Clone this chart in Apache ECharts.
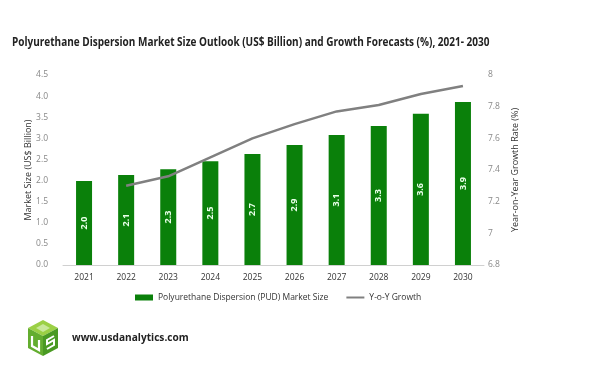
<!DOCTYPE html>
<html><head><meta charset="utf-8">
<script src="https://cdn.jsdelivr.net/npm/echarts@6/dist/echarts.min.js"></script>
<style>html,body{margin:0;padding:0;background:#fff}#c{width:595px;height:365px}</style>
</head><body><div id="c"></div>
<script>
const years = ['2021','2022','2023','2024','2025','2026','2027','2028','2029','2030'];
const marketSize = [1.99, 2.13, 2.27, 2.46, 2.63, 2.84, 3.08, 3.29, 3.58, 3.86];
const barLabels = ['2.0','2.1','2.3','2.5','2.7','2.9','3.1','3.3','3.6','3.9'];
const yoyGrowth = [null, 7.30, 7.36, 7.48, 7.60, 7.69, 7.77, 7.81, 7.88, 7.93];
const leftTicks = ['0.0','0.5','1.0','1.5','2.0','2.5','3.0','3.5','4.0','4.5'];
const rightTicks = ['6.8','7','7.2','7.4','7.6','7.8','8'];
const titleText = 'Polyurethane Dispersion Market Size Outlook (US$ Billion) and Growth Forecasts (%), 2021- 2030';

const chart = echarts.init(document.getElementById('c'));
const font = 'Open Sans, Noto Sans, sans-serif';
chart.setOption({
  animation: false,
  legend: {
    bottom: 58, left: 130, itemGap: 18, itemWidth: 18, itemHeight: 6,
    textStyle: { fontFamily: font, fontSize: 8.5, color: '#333' },
    data: [
      { name: 'Polyurethane Dispersion (PUD) Market Size', icon: 'rect' },
      { name: 'Y-o-Y Growth', icon: 'path://M0,0 L18,0 L18,2 L0,2 Z', itemStyle: { color: '#808080' } }
    ]
  },
  grid: { left: 63, right: 111, top: 75, bottom: 100 },
  xAxis: {
    type: 'category', data: years,
    axisLine: { lineStyle: { color: '#d0d0d0' } },
    axisTick: { show: false },
    axisLabel: { fontFamily: font, fontSize: 8.5, color: '#333', margin: 8 }
  },
  yAxis: [
    {
      type: 'value', min: 0, max: 4.5, interval: 0.5,
      name: 'Market Size (US$ Billion)', nameLocation: 'middle', nameGap: 30, nameRotate: 90,
      nameMoveOverlap: false,
      nameTextStyle: { fontFamily: font, fontSize: 9, color: '#333' },
      axisLine: { show: false }, axisTick: { show: false }, splitLine: { show: false },
      axisLabel: { fontFamily: font, fontSize: 8.5, color: '#888', margin: 15,
        formatter: (v) => leftTicks[Math.round(v / 0.5)] }
    },
    {
      type: 'value', min: 6.8, max: 8, interval: 0.2,
      name: 'Year-on-Year Growth Rate (%)', nameLocation: 'middle', nameGap: 22, nameRotate: 90,
      nameTextStyle: { fontFamily: font, fontSize: 9, color: '#333' },
      axisLine: { show: false }, axisTick: { show: false }, splitLine: { show: false },
      axisLabel: { fontFamily: font, fontSize: 8.5, color: '#888', margin: 4,
        formatter: (v) => rightTicks[Math.round((v - 6.8) / 0.2)] }
    }
  ],
  series: [
    {
      name: 'Polyurethane Dispersion (PUD) Market Size', type: 'bar', data: marketSize,
      barWidth: 16, itemStyle: { color: '#0a800a' },
      label: { show: true, position: 'inside', rotate: 90,
        formatter: (p) => barLabels[p.dataIndex],
        fontFamily: font, fontSize: 9, fontWeight: 'bold', color: '#eaffea' }
    },
    {
      name: 'Y-o-Y Growth', type: 'line', yAxisIndex: 1, data: yoyGrowth,
      symbol: 'none', lineStyle: { color: '#808080', width: 2.5 }, itemStyle: { color: '#808080' }
    }
  ],
  graphic: [
    { type: 'text', x: 12, y: 36, scaleX: 0.77, style: { text: titleText, fontFamily: font, fontSize: 13, fontWeight: 'bold', fill: '#222' } },
    { type: 'polygon', shape: { points: [[43,320],[58,328],[43,336],[28,328]] }, style: { fill: '#9bd045' } },
    { type: 'polygon', shape: { points: [[28,328],[43,336],[43,356],[28,348]] }, style: { fill: '#63ad2f' } },
    { type: 'polygon', shape: { points: [[43,336],[58,328],[58,348],[43,356]] }, style: { fill: '#4a9a23' } },
    { type: 'polyline', shape: { points: [[32,336],[32,346],[39,350],[39,340]] }, style: { stroke: '#fff', lineWidth: 2.2, fill: null } },
    { type: 'polyline', shape: { points: [[54,336],[47,340],[47,344],[54,340],[54,345],[47,349]] }, style: { stroke: '#fff', lineWidth: 2, fill: null } },
    { type: 'polygon', shape: { points: [[43,324],[50,328],[43,332],[36,328]] }, style: { fill: '#c8e89a' } },
    { type: 'text', x: 72, y: 332, scaleX: 0.92, style: { text: 'www.usdanalytics.com', fontFamily: font, fontSize: 11, fontWeight: 'bold', fill: '#222' } }
  ]
});
</script></body></html>
